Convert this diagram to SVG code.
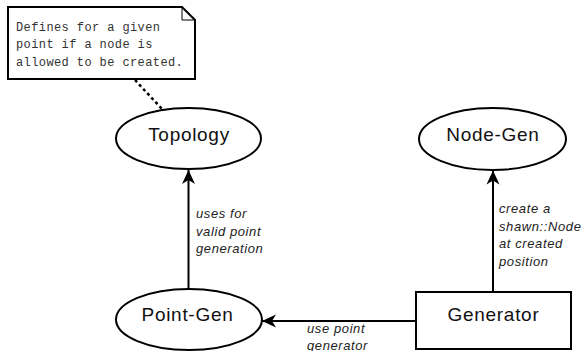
<svg xmlns="http://www.w3.org/2000/svg" width="584" height="351" viewBox="0 0 584 351">
<style>
.shape{fill:#fff;stroke:#000;stroke-width:2}
.node{font-family:"Liberation Sans",Arial,sans-serif;font-size:19px;letter-spacing:0.7px;text-anchor:middle;fill:#111}
.lbl{font-family:"Liberation Sans",Arial,sans-serif;font-size:13px;font-style:italic;letter-spacing:0.6px;fill:#222}
.note{font-family:"Liberation Mono","Courier New",monospace;font-size:12px;letter-spacing:0.4px;fill:#333}
.edge{fill:none;stroke:#000;stroke-width:2}
</style>
<defs>
<marker id="arr" markerUnits="userSpaceOnUse" markerWidth="16" markerHeight="16" viewBox="-14 -8 16 16" refX="0" refY="0" orient="auto">
<path d="M0,0 L-14,-6.5 L-10,0 L-14,6.5 Z" fill="#000"/>
</marker>
</defs>
<rect width="584" height="351" fill="#fff"/>
<g id="note">
<path class="shape" d="M8,7 H182 L195,20 V79 H8 Z"/>
<path d="M182,7 V20 H195" fill="none" stroke="#000" stroke-width="1"/>
<text class="note" x="16" y="30.5">Defines for a given</text>
<text class="note" x="16" y="48">point if a node is</text>
<text class="note" x="16" y="65.5">allowed to be created.</text>
</g>
<g id="connectors">
<line x1="135" y1="80" x2="162" y2="109" stroke="#000" stroke-width="2.5" stroke-dasharray="3,3"/>
<line class="edge" x1="188.5" y1="289" x2="188.5" y2="170" marker-end="url(#arr)"/>
<line class="edge" x1="493" y1="292" x2="493" y2="170.5" marker-end="url(#arr)"/>
<line class="edge" x1="416" y1="321" x2="262" y2="321" marker-end="url(#arr)"/>
<text class="lbl"><tspan x="196" y="218">uses for</tspan><tspan x="196" y="235.5">valid point</tspan><tspan x="196" y="253">generation</tspan></text>
<text class="lbl"><tspan x="499" y="213">create a</tspan><tspan x="499" y="230.5">shawn::Node</tspan><tspan x="499" y="248">at created</tspan><tspan x="499" y="265.5">position</tspan></text>
<text class="lbl"><tspan x="307" y="333">use point</tspan><tspan x="307" y="350">generator</tspan></text>
</g>
<g id="topology">
<ellipse class="shape" cx="188.5" cy="138.5" rx="72.5" ry="30.5"/>
<text class="node" x="189" y="141">Topology</text>
</g>
<g id="node-gen">
<ellipse class="shape" cx="492.5" cy="139" rx="73.5" ry="31"/>
<text class="node" x="493" y="141">Node-Gen</text>
</g>
<g id="point-gen">
<ellipse class="shape" cx="189" cy="319.5" rx="73" ry="30.5"/>
<text class="node" x="187.5" y="321">Point-Gen</text>
</g>
<g id="generator">
<rect class="shape" x="416" y="292" width="155" height="57"/>
<text class="node" x="493.5" y="321">Generator</text>
</g>
</svg>
